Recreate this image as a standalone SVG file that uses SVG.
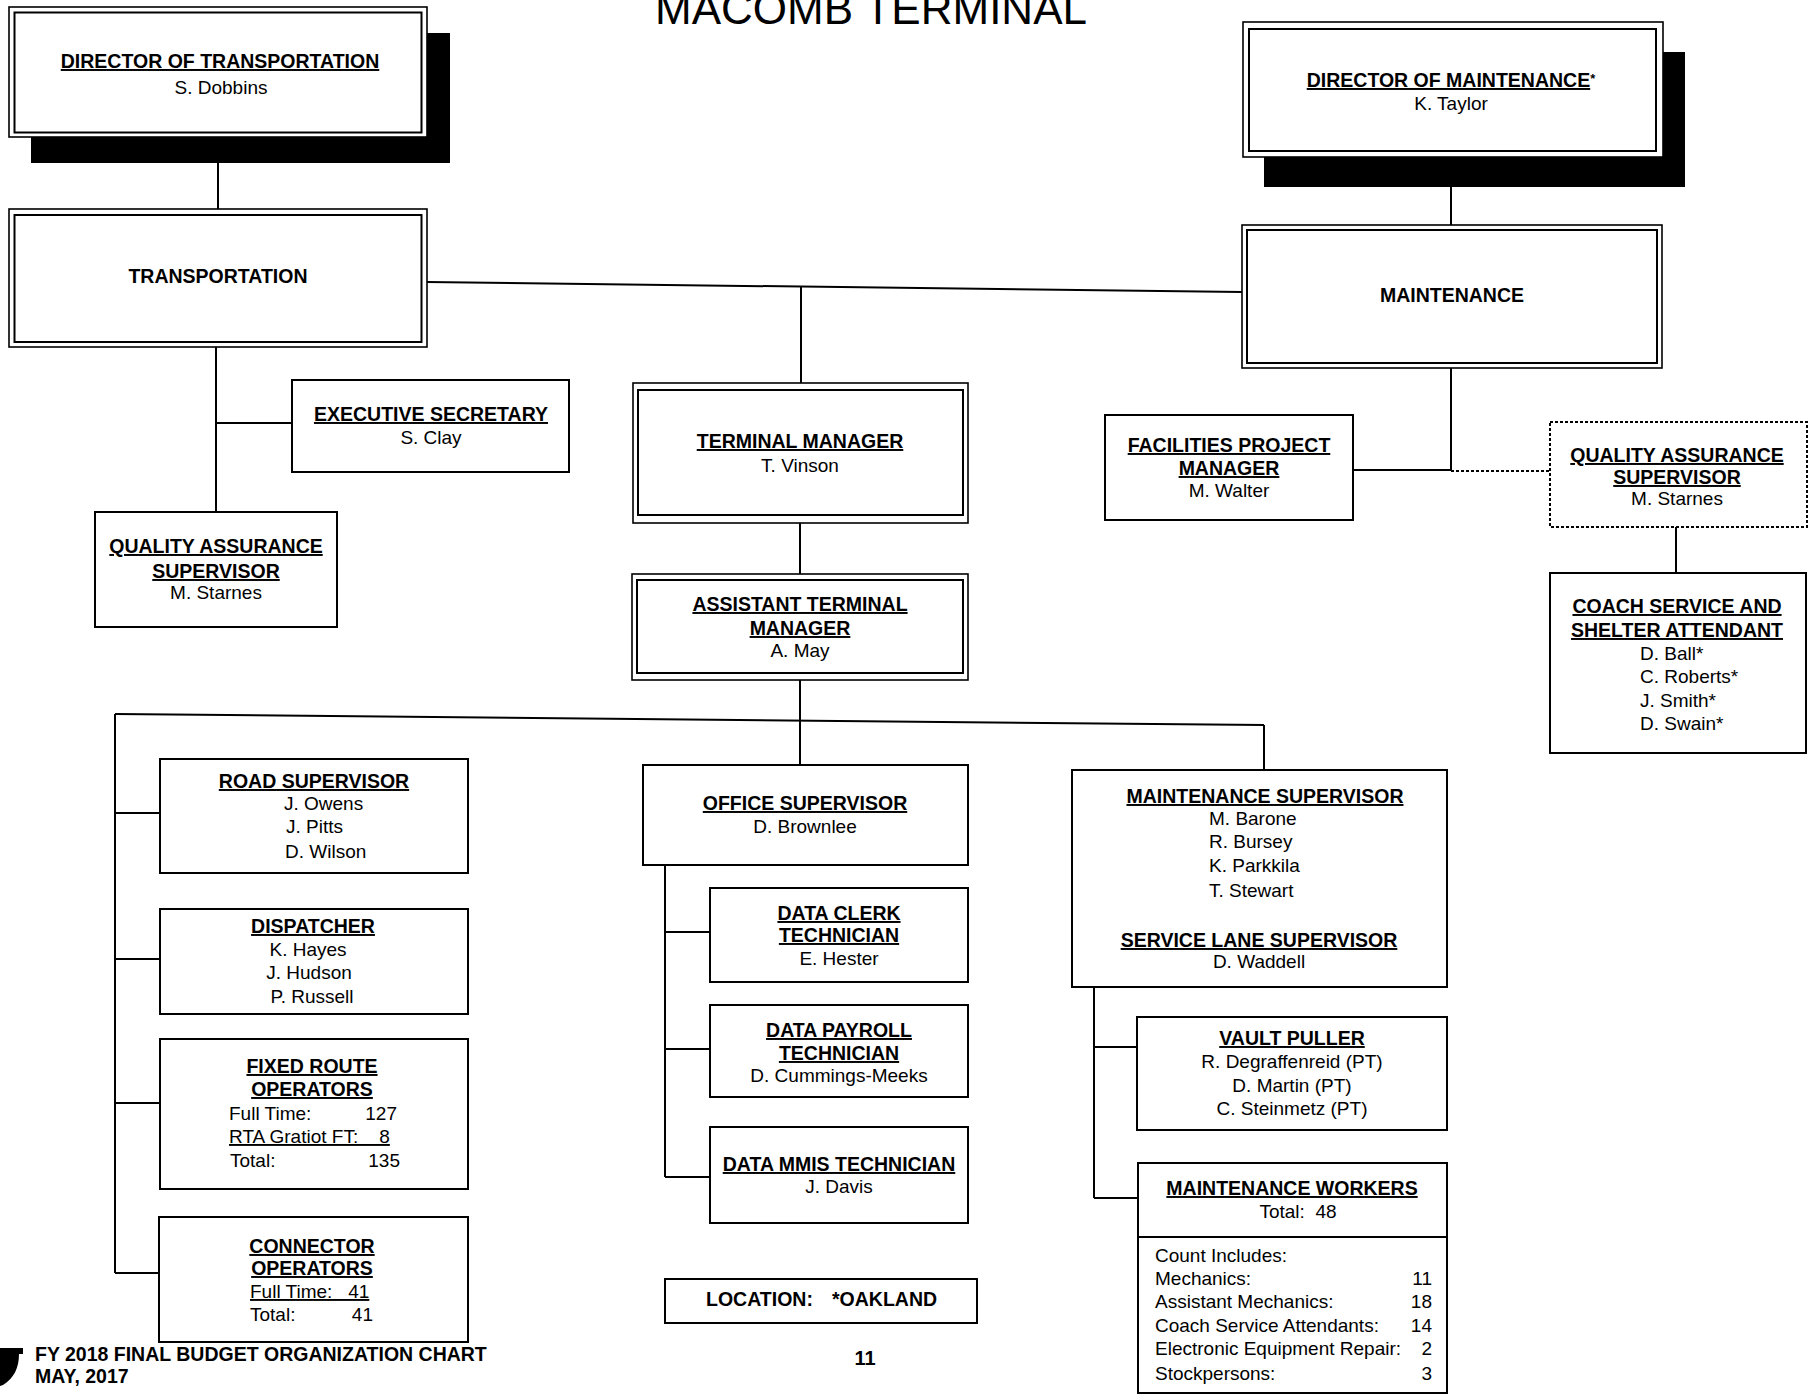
<svg xmlns="http://www.w3.org/2000/svg" width="1811" height="1395" viewBox="0 0 1811 1395">
  <style>
    text { font-family: "Liberation Sans", Arial, sans-serif; fill: #000; }
    .t { font-weight: bold; font-size: 19.5px; text-anchor: middle; text-decoration: underline; }
    .h { font-weight: bold; font-size: 19.5px; text-anchor: middle; }
    .n { font-size: 19px; text-anchor: middle; }
    .l { font-size: 19px; text-anchor: start; }
    .r { font-size: 19px; text-anchor: end; }
    .pre { white-space: pre; }
    .u { text-decoration: underline; white-space: pre; }
    .box { fill: #fff; stroke: #000; stroke-width: 2; }
    .outer { fill: #fff; stroke: #000; stroke-width: 1.6; }
    .inner { fill: none; stroke: #000; stroke-width: 2; }
    .shadow { fill: #000; }
    .dotted { fill: #fff; stroke: #000; stroke-width: 2; stroke-dasharray: 3 2; }
    #connectors line { stroke: #000; stroke-width: 2; }
    #connectors line.dot { stroke-dasharray: 3 2; }
  </style>

  <rect width="1811" height="1395" fill="#fff"/>

  <!-- page heading -->
  <text x="871" y="24" font-size="44" text-anchor="middle">MACOMB TERMINAL</text>

  <!-- reporting lines -->
  <g id="connectors">
    <line x1="218" y1="163" x2="218" y2="209"/>
    <line x1="427" y1="282" x2="1242" y2="292"/>
    <line x1="801" y1="287" x2="801" y2="383"/>
    <line x1="216" y1="347" x2="216" y2="512"/>
    <line x1="216" y1="423" x2="292" y2="423"/>
    <line x1="800" y1="523" x2="800" y2="574"/>
    <line x1="800" y1="680" x2="800" y2="765"/>
    <line x1="115" y1="714" x2="1264" y2="725"/>
    <line x1="1264" y1="725" x2="1264" y2="770"/>
    <line x1="115" y1="714" x2="115" y2="1273"/>
    <line x1="115" y1="813" x2="160" y2="813"/>
    <line x1="115" y1="959" x2="160" y2="959"/>
    <line x1="115" y1="1103" x2="160" y2="1103"/>
    <line x1="115" y1="1273" x2="159" y2="1273"/>
    <line x1="665" y1="865" x2="665" y2="1177"/>
    <line x1="665" y1="932" x2="710" y2="932"/>
    <line x1="665" y1="1049" x2="710" y2="1049"/>
    <line x1="665" y1="1177" x2="710" y2="1177"/>
    <line x1="1094" y1="987" x2="1094" y2="1198"/>
    <line x1="1094" y1="1047" x2="1137" y2="1047"/>
    <line x1="1094" y1="1198" x2="1138" y2="1198"/>
    <line x1="1451" y1="187" x2="1451" y2="225"/>
    <line x1="1451" y1="368" x2="1451" y2="470"/>
    <line x1="1353" y1="470" x2="1451" y2="470"/>
    <line class="dot" x1="1451" y1="471" x2="1550" y2="471"/>
    <line x1="1676" y1="527" x2="1676" y2="573"/>
  </g>

  <g id="director-transportation">
    <rect class="shadow" x="31" y="33" width="419" height="130"/>
    <rect class="outer" x="9" y="7" width="418" height="130"/>
    <rect class="inner" x="14.5" y="12.5" width="407" height="120"/>
    <text class="t" x="220" y="68">DIRECTOR OF TRANSPORTATION</text>
    <text class="n" x="221" y="94">S. Dobbins</text>
  </g>

  <g id="transportation">
    <rect class="outer" x="9" y="209" width="418" height="138"/>
    <rect class="inner" x="14.5" y="215" width="407" height="127"/>
    <text class="h" x="218" y="283">TRANSPORTATION</text>
  </g>

  <g id="director-maintenance">
    <rect class="shadow" x="1264" y="52" width="421" height="135"/>
    <rect class="outer" x="1243" y="22" width="420" height="135"/>
    <rect class="inner" x="1249" y="29" width="407" height="122"/>
    <text class="h" x="1451" y="87"><tspan text-decoration="underline">DIRECTOR OF MAINTENANCE</tspan><tspan font-size="13" dy="-4">*</tspan></text>
    <text class="n" x="1451" y="110">K. Taylor</text>
  </g>

  <g id="maintenance">
    <rect class="outer" x="1242" y="225" width="420" height="143"/>
    <rect class="inner" x="1247" y="230" width="410" height="133"/>
    <text class="h" x="1452" y="302">MAINTENANCE</text>
  </g>

  <g id="executive-secretary">
    <rect class="box" x="292" y="380" width="277" height="92"/>
    <text class="t" x="431" y="421">EXECUTIVE SECRETARY</text>
    <text class="n" x="431" y="444">S. Clay</text>
  </g>

  <g id="qa-supervisor-transportation">
    <rect class="box" x="95" y="512" width="242" height="115"/>
    <text class="t" x="216" y="553">QUALITY ASSURANCE</text>
    <text class="t" x="216" y="578">SUPERVISOR</text>
    <text class="n" x="216" y="599">M. Starnes</text>
  </g>

  <g id="terminal-manager">
    <rect class="outer" x="633" y="383" width="335" height="140"/>
    <rect class="inner" x="638" y="390" width="325" height="125"/>
    <text class="t" x="800" y="448">TERMINAL MANAGER</text>
    <text class="n" x="800" y="472">T. Vinson</text>
  </g>

  <g id="assistant-terminal-manager">
    <rect class="outer" x="632" y="574" width="336" height="106"/>
    <rect class="inner" x="637" y="580" width="326" height="93"/>
    <text class="t" x="800" y="611">ASSISTANT TERMINAL</text>
    <text class="t" x="800" y="635">MANAGER</text>
    <text class="n" x="800" y="657">A. May</text>
  </g>

  <g id="facilities-project-manager">
    <rect class="box" x="1105" y="415" width="248" height="105"/>
    <text class="t" x="1229" y="452">FACILITIES PROJECT</text>
    <text class="t" x="1229" y="475">MANAGER</text>
    <text class="n" x="1229" y="497">M. Walter</text>
  </g>

  <g id="qa-supervisor-maintenance">
    <rect class="dotted" x="1550" y="422" width="257" height="105"/>
    <text class="t" x="1677" y="462">QUALITY ASSURANCE</text>
    <text class="t" x="1677" y="484">SUPERVISOR</text>
    <text class="n" x="1677" y="505">M. Starnes</text>
  </g>

  <g id="coach-service-attendant">
    <rect class="box" x="1550" y="573" width="256" height="180"/>
    <text class="t" x="1677" y="613">COACH SERVICE AND</text>
    <text class="t" x="1677" y="637">SHELTER ATTENDANT</text>
    <text class="l" x="1640" y="660">D. Ball*</text>
    <text class="l" x="1640" y="683">C. Roberts*</text>
    <text class="l" x="1640" y="707">J. Smith*</text>
    <text class="l" x="1640" y="730">D. Swain*</text>
  </g>

  <g id="road-supervisor">
    <rect class="box" x="160" y="759" width="308" height="114"/>
    <text class="t" x="314" y="788">ROAD SUPERVISOR</text>
    <text class="l" x="284" y="810">J. Owens</text>
    <text class="l" x="286" y="833">J. Pitts</text>
    <text class="l" x="285" y="858">D. Wilson</text>
  </g>

  <g id="dispatcher">
    <rect class="box" x="160" y="909" width="308" height="105"/>
    <text class="t" x="313" y="933">DISPATCHER</text>
    <text class="n" x="308" y="956">K. Hayes</text>
    <text class="n" x="309" y="979">J. Hudson</text>
    <text class="n" x="312" y="1003">P. Russell</text>
  </g>

  <g id="fixed-route-operators">
    <rect class="box" x="160" y="1039" width="308" height="150"/>
    <text class="t" x="312" y="1073">FIXED ROUTE</text>
    <text class="t" x="312" y="1096">OPERATORS</text>
    <text class="l" x="229" y="1120">Full Time:</text>
    <text class="r" x="397" y="1120">127</text>
    <text class="l u" x="229" y="1143">RTA Gratiot FT:    8</text>
    <text class="l" x="230" y="1167">Total:</text>
    <text class="r" x="400" y="1167">135</text>
  </g>

  <g id="connector-operators">
    <rect class="box" x="159" y="1217" width="309" height="125"/>
    <text class="t" x="312" y="1253">CONNECTOR</text>
    <text class="t" x="312" y="1275">OPERATORS</text>
    <text class="l u" x="250" y="1298">Full Time:   41</text>
    <text class="l" x="250" y="1321">Total:</text>
    <text class="r" x="373" y="1321">41</text>
  </g>

  <g id="office-supervisor">
    <rect class="box" x="643" y="765" width="325" height="100"/>
    <text class="t" x="805" y="810">OFFICE SUPERVISOR</text>
    <text class="n" x="805" y="833">D. Brownlee</text>
  </g>

  <g id="data-clerk-technician">
    <rect class="box" x="710" y="888" width="258" height="94"/>
    <text class="t" x="839" y="920">DATA CLERK</text>
    <text class="t" x="839" y="942">TECHNICIAN</text>
    <text class="n" x="839" y="965">E. Hester</text>
  </g>

  <g id="data-payroll-technician">
    <rect class="box" x="710" y="1005" width="258" height="92"/>
    <text class="t" x="839" y="1037">DATA PAYROLL</text>
    <text class="t" x="839" y="1060">TECHNICIAN</text>
    <text class="n" x="839" y="1082">D. Cummings-Meeks</text>
  </g>

  <g id="data-mmis-technician">
    <rect class="box" x="710" y="1127" width="258" height="96"/>
    <text class="t" x="839" y="1171">DATA MMIS TECHNICIAN</text>
    <text class="n" x="839" y="1193">J. Davis</text>
  </g>

  <g id="location-note">
    <rect class="box" x="665" y="1279" width="312" height="44"/>
    <text x="706" y="1306" font-size="19.5" font-weight="bold">LOCATION:</text>
    <text x="832" y="1306" font-size="19.5" font-weight="bold">*OAKLAND</text>
  </g>

  <g id="maintenance-supervisor">
    <rect class="box" x="1072" y="770" width="375" height="217"/>
    <text class="t" x="1265" y="803">MAINTENANCE SUPERVISOR</text>
    <text class="l" x="1209" y="825">M. Barone</text>
    <text class="l" x="1209" y="848">R. Bursey</text>
    <text class="l" x="1209" y="872">K. Parkkila</text>
    <text class="l" x="1209" y="897">T. Stewart</text>
    <text class="t" x="1259" y="947">SERVICE LANE SUPERVISOR</text>
    <text class="n" x="1259" y="968">D. Waddell</text>
  </g>

  <g id="vault-puller">
    <rect class="box" x="1137" y="1017" width="310" height="113"/>
    <text class="t" x="1292" y="1045">VAULT PULLER</text>
    <text class="n" x="1292" y="1068">R. Degraffenreid (PT)</text>
    <text class="n" x="1292" y="1092">D. Martin (PT)</text>
    <text class="n" x="1292" y="1115">C. Steinmetz (PT)</text>
  </g>

  <g id="maintenance-workers">
    <rect class="box" x="1138" y="1163" width="309" height="230"/>
    <line x1="1138" y1="1237" x2="1447" y2="1237" stroke="#000" stroke-width="2"/>
    <text class="t" x="1292" y="1195">MAINTENANCE WORKERS</text>
    <text class="n pre" x="1298" y="1218">Total:  48</text>
    <text class="l" x="1155" y="1262">Count Includes:</text>
    <text class="l" x="1155" y="1285">Mechanics:</text>
    <text class="r" x="1432" y="1285">11</text>
    <text class="l" x="1155" y="1308">Assistant Mechanics:</text>
    <text class="r" x="1432" y="1308">18</text>
    <text class="l" x="1155" y="1332">Coach Service Attendants:</text>
    <text class="r" x="1432" y="1332">14</text>
    <text class="l" x="1155" y="1355">Electronic Equipment Repair:</text>
    <text class="r" x="1432" y="1355">2</text>
    <text class="l" x="1155" y="1380">Stockpersons:</text>
    <text class="r" x="1432" y="1380">3</text>
  </g>

  <!-- footer -->
  <path d="M0,1348 H23 V1354 H19 C19,1368 14,1378 3,1385 L0,1386 Z" fill="#000"/>
  <text x="35" y="1361" font-size="19.5" font-weight="bold">FY 2018 FINAL BUDGET ORGANIZATION CHART</text>
  <text x="35" y="1383" font-size="19.5" font-weight="bold">MAY, 2017</text>
  <text x="865" y="1365" font-size="20" font-weight="bold" text-anchor="middle">11</text>
</svg>
